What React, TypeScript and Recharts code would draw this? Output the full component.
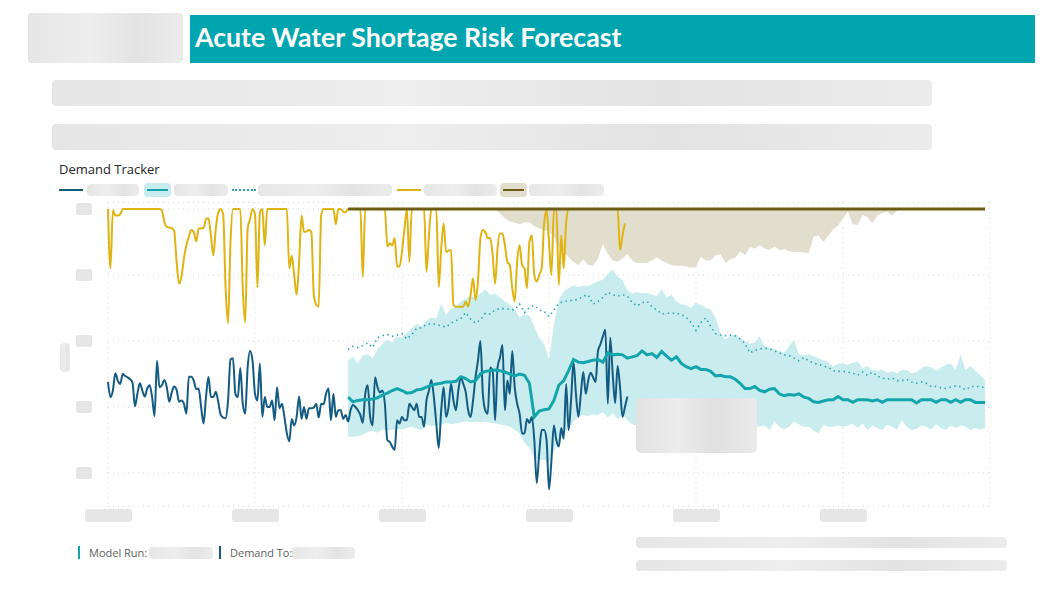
import React from "react";
import { ComposedChart, Line, Area, XAxis, YAxis, CartesianGrid } from "recharts";

// observed series, two readings a day from day 0
const demandActual = [
  1.38, 1.15, 1.25, 1.51, 1.4, 1.35, 1.5, 1.47, 1.45, 1.42,
  1.37, 1.01, 1.2, 1.36, 1.25, 1.16, 1.28, 1.33, 1.15, 0.86,
  1.7, 1.3, 1.33, 1.41, 1.3, 1.08, 1.22, 1.31, 1.26, 1.08,
  1.1, 1.05, 0.9, 1.46, 1.46, 1.4, 1.27, 1.28, 1.0, 0.75,
  1.15, 1.46, 1.15, 1.15, 1.23, 1.08, 0.88, 0.84, 0.83, 1.1,
  1.72, 1.74, 1.2, 1.15, 1.59, 1.05, 0.9, 1.6, 1.85, 1.7,
  1.2, 1.1, 1.66, 0.85, 1.15, 1.0, 1.0, 1.1, 0.8, 1.3,
  0.98, 1.05, 0.85, 0.6, 0.48, 0.82, 0.72, 0.85, 1.16, 0.82,
  1.0, 0.82, 0.98, 0.98, 0.99, 1.05, 0.84, 1.05, 1.04, 1.2,
  1.28, 0.8, 1.2, 0.85, 0.95, 0.95, 0.82, 0.88, 0.78, 0.95,
  1.03, 1.0, 0.95, 0.88, 0.76, 1.2, 1.33, 0.85, 0.72, 1.45,
  1.3, 1.22, 1.25, 1.05, 0.5, 0.47, 0.4, 0.35, 0.8, 0.75,
  0.85, 0.8, 0.8, 1.05, 1.0, 0.95, 1.05, 0.85, 0.85, 0.7,
  1.1, 1.25, 1.41, 1.15, 0.75, 0.38, 0.95, 1.3, 0.85, 1.0,
  1.35, 1.1, 0.95, 1.25, 1.45, 1.35, 1.23, 0.95, 0.85, 1.1,
  1.45, 1.7, 2.0, 1.2, 0.95, 0.9, 1.6, 1.55, 0.8, 1.6,
  1.75, 1.94, 0.95, 1.4, 1.2, 1.85, 1.3, 1.05, 0.9, 0.6,
  0.6, 0.82, 0.76, 0.85, 0.5, -0.15, 0.3, 0.65, 0.65, 0.5,
  -0.25, 0.2, 0.72, 0.5, 0.4, 0.68, 0.52, 1.35, 0.65, 1.1,
  1.68, 1.2, 0.85, 1.2, 1.53, 1.2, 1.4, 1.52, 1.45, 1.38,
  1.85, 1.95, 2.07, 2.17, 1.05, 2.05, 1.5, 1.06, 1.62, 1.3,
  0.85, 1.0, 1.16,
];

const shortageRisk = [
  4, 3.1, 3.98, 3.9, 3.9, 3.92, 4, 4, 4, 4,
  4, 4, 4, 4, 4, 4, 4, 4, 4, 4,
  4, 4, 3.98, 3.8, 3.73, 3.72, 3.71, 3.67, 3.2, 2.87,
  2.98, 3.25, 3.45, 3.58, 3.68, 3.65, 3.51, 3.7, 3.71, 3.71,
  3.85, 3.86, 3.6, 3.3, 3.7, 3.95, 4, 3.92, 2.8, 2.27,
  3.5, 4, 4, 4, 4, 2.8, 2.28, 3.7, 3.85, 4,
  3.92, 2.81, 3.95, 4, 3.45, 4, 4, 4, 4, 4,
  4, 4, 4, 4, 3.1, 3.29, 3.0, 2.7, 3.2, 3.9,
  3.65, 3.66, 3.68, 3.65, 2.7, 2.55, 2.52, 3.9, 4, 4,
  4, 4, 4, 3.77, 4, 4, 3.96, 3.95, 4, 4,
  4, 4, 4, 4, 2.97, 4, 4, 4, 4, 4,
  4, 4, 4, 4, 3.43, 3.48, 3.45, 3.56, 3.13, 3.13,
  3.35, 3.7, 4, 3.2, 4, 4, 4, 4, 4, 4,
  3.05, 3.6, 4, 4, 4, 2.82, 3.4, 3.78, 3.35, 3.37,
  3.38, 2.55, 2.52, 2.52, 2.52, 2.52, 2.6, 2.52, 2.7, 2.95,
  2.62, 2.9, 3.55, 3.68, 3.65, 3.56, 3.56, 3.3, 2.87, 3.4,
  3.63, 3.63, 3.45, 3.2, 3.15, 2.8, 2.6, 3.2, 3.45, 3.15,
  3.1, 2.8, 3.5, 3.6, 3.0, 2.9, 3.0, 3.1, 3.78, 3.98,
  3.5, 3.0, 4, 4, 2.85, 3.6, 3.1, 3.8, 4, 4,
  4, 4, 4, 4, 4, 4, 4, 4, 4, 4,
  4, 4, 4, 4, 4, 4, 4, 4, 4, 3.38,
  3.6, 3.78,
];

// forecast series, daily from day 49
const forecastStartDay = 49;

const demandForecast = [
  1.15, 1.08, 1.1, 1.11, 1.11, 1.12, 1.14, 1.18, 1.21, 1.25,
  1.28, 1.25, 1.21, 1.22, 1.26, 1.27, 1.3, 1.33, 1.35, 1.36,
  1.38, 1.38, 1.39, 1.46, 1.43, 1.38, 1.4, 1.5, 1.54, 1.55,
  1.56, 1.55, 1.53, 1.5, 1.47, 1.5, 1.48, 1.36, 0.85, 0.94,
  0.96, 0.97, 1.1, 1.33, 1.4, 1.55, 1.72, 1.68, 1.67, 1.69,
  1.71, 1.72, 1.68, 1.82, 1.79, 1.8, 1.79, 1.74, 1.76, 1.78,
  1.85, 1.79, 1.81, 1.75, 1.84, 1.77, 1.71, 1.76, 1.66, 1.61,
  1.58, 1.61, 1.57, 1.57, 1.54, 1.47, 1.48, 1.46, 1.46, 1.42,
  1.36, 1.28, 1.28, 1.31, 1.25, 1.23, 1.27, 1.28, 1.2, 1.17,
  1.19, 1.18, 1.2, 1.15, 1.13, 1.08, 1.07, 1.09, 1.11, 1.11,
  1.16, 1.11, 1.11, 1.07, 1.11, 1.11, 1.11, 1.09, 1.11, 1.07,
  1.11, 1.11, 1.11, 1.11, 1.11, 1.11, 1.06, 1.11, 1.11, 1.11,
  1.07, 1.11, 1.11, 1.07, 1.11, 1.07, 1.11, 1.11, 1.07, 1.07,
  1.07,
];

const demandForecastHigh = [
  1.87, 1.92, 1.9, 1.93, 1.97, 1.9, 2.05, 2.08, 2.1, 2.07,
  2.09, 2.11, 2.03, 2.1, 2.19, 2.2, 2.25, 2.26, 2.25, 2.23,
  2.21, 2.27, 2.31, 2.34, 2.43, 2.33, 2.27, 2.32, 2.42, 2.41,
  2.47, 2.49, 2.49, 2.48, 2.47, 2.56, 2.43, 2.51, 2.54, 2.47,
  2.45, 2.37, 2.47, 2.57, 2.6, 2.61, 2.62, 2.63, 2.68, 2.7,
  2.56, 2.6, 2.66, 2.74, 2.7, 2.68, 2.7, 2.68, 2.58, 2.53,
  2.58, 2.6, 2.52, 2.47, 2.41, 2.42, 2.42, 2.42, 2.4, 2.36,
  2.28, 2.16, 2.28, 2.35, 2.22, 2.11, 2.09, 2.08, 2.09, 2.08,
  2.03, 1.96, 1.82, 1.86, 1.88, 1.89, 1.88, 1.85, 1.82, 1.79,
  1.78, 1.74, 1.7, 1.75, 1.7, 1.66, 1.65, 1.62, 1.6, 1.55,
  1.54, 1.54, 1.53, 1.51, 1.48, 1.53, 1.48, 1.53, 1.47, 1.44,
  1.42, 1.44, 1.4, 1.4, 1.42, 1.38, 1.36, 1.38, 1.36, 1.31,
  1.31, 1.29, 1.28, 1.3, 1.32, 1.31, 1.26, 1.31, 1.31, 1.31,
  1.29,
];

const bandHigh = [
  1.71, 1.76, 1.66, 1.78, 1.8, 1.74, 1.88, 1.96, 2.02, 1.98,
  2.07, 2.05, 2.12, 2.19, 2.26, 2.22, 2.31, 2.36, 2.34, 2.57,
  2.4, 2.49, 2.52, 2.6, 2.64, 2.68, 2.66, 2.72, 2.78, 2.7,
  2.72, 2.66, 2.6, 2.55, 2.47, 2.36, 2.4, 2.38, 2.22, 2.05,
  1.95, 1.72, 2.25, 2.62, 2.75, 2.8, 2.84, 2.82, 2.84, 2.83,
  2.87, 2.9, 2.93, 3.02, 3.08, 2.98, 2.92, 2.77, 2.72, 2.74,
  2.72, 2.73, 2.7, 2.68, 2.78, 2.66, 2.7, 2.6, 2.56, 2.54,
  2.5, 2.58, 2.55, 2.5, 2.48, 2.35, 2.12, 2.02, 2.08, 2.1,
  2.05, 2.0, 1.96, 1.98, 2.07, 1.92, 1.9, 1.88, 1.85, 1.82,
  1.92, 2.02, 1.8, 1.78, 1.8, 1.77, 1.74, 1.71, 1.68, 1.61,
  1.66, 1.66, 1.64, 1.67, 1.69, 1.59, 1.62, 1.56, 1.55, 1.57,
  1.52, 1.54, 1.51, 1.56, 1.56, 1.51, 1.53, 1.59, 1.62, 1.6,
  1.55, 1.6, 1.64, 1.66, 1.56, 1.8, 1.56, 1.62, 1.55, 1.48,
  1.41,
];

const bandLow = [
  0.55, 0.55, 0.56, 0.58, 0.62, 0.64, 0.61, 0.66, 0.64, 0.66,
  0.67, 0.66, 0.68, 0.7, 0.67, 0.65, 0.74, 0.71, 0.72, 0.73,
  0.76, 0.74, 0.75, 0.77, 0.78, 0.77, 0.78, 0.77, 0.78, 0.76,
  0.75, 0.74, 0.72, 0.7, 0.66, 0.6, 0.46, 0.38, 0.24, 0.2,
  0.2, 0.16, 0.33, 0.47, 0.58, 0.68, 0.78, 0.86, 0.88, 0.86,
  0.89, 0.88, 0.92, 0.84, 0.91, 0.82, 0.88, 0.8, 0.74, 0.72,
  0.75, 0.7, 0.74, 0.71, 0.76, 0.72, 0.7, 0.74, 0.73, 0.71,
  0.75, 0.7, 0.73, 0.74, 0.71, 0.72, 0.76, 0.7, 0.73, 0.72,
  0.75, 0.71, 0.73, 0.72, 0.7, 0.72, 0.65, 0.78, 0.7, 0.66,
  0.7, 0.78, 0.74, 0.7, 0.7, 0.64, 0.6, 0.73, 0.7, 0.7,
  0.72, 0.7, 0.72, 0.75, 0.68, 0.75, 0.65, 0.72, 0.68, 0.65,
  0.73, 0.7, 0.66, 0.8, 0.7, 0.65, 0.67, 0.72, 0.7, 0.66,
  0.74, 0.68, 0.65, 0.72, 0.68, 0.72, 0.7, 0.65, 0.68, 0.66,
  0.68,
];

// risk range, daily from day 79 up to the ceiling
const riskBandStartDay = 79;
const riskCeiling = 4;
const riskBandLow = [
  4.0, 3.93, 3.86, 3.81, 3.79, 3.77, 3.8, 3.8, 3.74, 3.71,
  3.68, 3.66, 3.58, 3.42, 3.35, 3.27, 3.2, 3.15, 3.24, 3.15,
  3.14, 3.25, 3.47, 3.32, 3.22, 3.2, 3.25, 3.32, 3.22, 3.18,
  3.18, 3.18, 3.22, 3.27, 3.22, 3.18, 3.15, 3.14, 3.14, 3.13,
  3.11, 3.12, 3.28, 3.22, 3.22, 3.3, 3.32, 3.18, 3.24, 3.26,
  3.36, 3.3, 3.42, 3.4, 3.45, 3.4, 3.38, 3.43, 3.38, 3.39,
  3.36, 3.35, 3.35, 3.34, 3.33, 3.58, 3.6, 3.5, 3.6, 3.69,
  3.75, 3.86, 3.96, 3.77, 3.76, 3.91, 3.88, 3.78, 3.9, 3.94,
  3.96, 3.9, 3.97, 4.0,
];

const xTicks = [0, 30, 60, 90, 120, 150];
const yTicks = [0, 1, 2, 3, 4];

const observed = demandActual.map((v, i) => ({
  day: i / 2,
  demand: v,
  risk: i < shortageRisk.length ? shortageRisk[i] : null,
}));

const forecast = demandForecast.map((v, i) => ({
  day: forecastStartDay + i,
  forecast: v,
  high: demandForecastHigh[i],
  band: [bandLow[i], bandHigh[i]],
  ceiling: riskCeiling,
}));

const riskBand = riskBandLow.map((v, i) => ({
  day: riskBandStartDay + i,
  band: [v, riskCeiling],
}));

const blur: React.CSSProperties = {
  position: "absolute",
  background: "linear-gradient(90deg,#e6e6e6,#eeeeee 40%,#e3e3e3 70%,#ececec)",
  borderRadius: 4,
  filter: "blur(0.6px)",
};

const Redact = ({ x, y, w, h }: { x: number; y: number; w: number; h: number }) => (
  <div style={{ ...blur, left: x, top: y, width: w, height: h }} />
);

const XTick = ({ x, y }: any) => (
  <rect x={x - 23} y={y - 5} width={47} height={13} rx={3} fill="#e6e6e6" />
);

const YTick = ({ x, y }: any) => (
  <rect x={x - 24} y={y - 6} width={16} height={12} rx={2} fill="#e6e6e6" />
);

const Swatch = ({ x, color, dash, bg }: { x: number; color: string; dash?: boolean; bg?: string }) => (
  <div
    style={{
      position: "absolute",
      left: x,
      top: 183,
      width: bg ? 27 : 24,
      height: 14,
      background: bg || "transparent",
      borderRadius: 4,
    }}
  >
    <div
      style={{
        position: "absolute",
        left: bg ? 3 : 0,
        right: bg ? 3 : 0,
        top: 6,
        borderTop: dash ? `2px dotted ${color}` : `2px solid ${color}`,
      }}
    />
  </div>
);

export default function App() {
  return (
    <div
      style={{
        position: "absolute",
        left: 0,
        top: 0,
        width: 1055,
        height: 601,
        background: "#fff",
        fontFamily: "'Open Sans', sans-serif",
        overflow: "hidden",
      }}
    >
      <Redact x={28} y={13} w={155} h={50} />
      <div
        style={{
          position: "absolute",
          left: 190,
          top: 15,
          width: 845,
          height: 48,
          background: "#00a5b0",
        }}
      >
        <div
          style={{
            position: "absolute",
            left: 5,
            top: 6,
            color: "#fff",
            fontFamily: "Lato, sans-serif",
            fontWeight: 700,
            fontSize: 26.7,
            whiteSpace: "nowrap",
          }}
        >
          Acute Water Shortage Risk Forecast
        </div>
      </div>
      <Redact x={52} y={80} w={880} h={26} />
      <Redact x={52} y={124} w={880} h={26} />

      <div style={{ position: "absolute", left: 59, top: 160, fontSize: 13, color: "#252423" }}>
        Demand Tracker
      </div>

      <Swatch x={59} color="#135b82" />
      <Redact x={87} y={184} w={52} h={12} />
      <Swatch x={144} color="#12a5ab" bg="#c9ecef" />
      <Redact x={174} y={184} w={54} h={12} />
      <Swatch x={232} color="#2aa8ae" dash />
      <Redact x={258} y={184} w={134} h={12} />
      <Swatch x={397} color="#dfb312" />
      <Redact x={424} y={184} w={73} h={12} />
      <Swatch x={500} color="#6e5c14" bg="#e2decd" />
      <Redact x={529} y={184} w={75} h={12} />

      <Redact x={60} y={343} w={10} h={29} />

      <div style={{ position: "absolute", left: 0, top: 180 }}>
        <ComposedChart
          width={1000}
          height={360}
          margin={{ top: 22.4, right: 10, bottom: 4, left: 68 }}
        >
          <CartesianGrid stroke="#d4d4d4" strokeDasharray="1 4" />
          <XAxis
            type="number"
            dataKey="day"
            domain={[0, 180]}
            ticks={xTicks}
            axisLine={false}
            tickLine={false}
            height={30}
            tick={<XTick />}
            allowDuplicatedCategory={false}
          />
          <YAxis
            type="number"
            domain={[-0.5, 4.1]}
            ticks={yTicks}
            axisLine={false}
            tickLine={false}
            width={40}
            tick={<YTick />}
          />
          <Area
            data={forecast}
            dataKey="band"
            type="linear"
            stroke="none"
            fill="#c9ecef"
            fillOpacity={1}
            isAnimationActive={false}
          />
          <Area
            data={riskBand}
            dataKey="band"
            type="linear"
            stroke="none"
            fill="#e2decd"
            fillOpacity={1}
            isAnimationActive={false}
          />
          <Line
            data={observed}
            dataKey="demand"
            type="monotone"
            stroke="#135b82"
            strokeWidth={2}
            dot={false}
            isAnimationActive={false}
          />
          <Line
            data={forecast}
            dataKey="forecast"
            type="linear"
            stroke="#12a5ab"
            strokeWidth={3}
            dot={false}
            isAnimationActive={false}
          />
          <Line
            data={forecast}
            dataKey="high"
            type="linear"
            stroke="#2aa8ae"
            strokeWidth={1.6}
            strokeDasharray="1.5 3.5"
            dot={false}
            isAnimationActive={false}
          />
          <Line
            data={observed}
            dataKey="risk"
            type="monotone"
            stroke="#dfb312"
            strokeWidth={2}
            dot={false}
            connectNulls={false}
            isAnimationActive={false}
          />
          <Line
            data={forecast}
            dataKey="ceiling"
            type="linear"
            stroke="#6e5c14"
            strokeWidth={3}
            dot={false}
            isAnimationActive={false}
          />
        </ComposedChart>
      </div>

      <div
        style={{
          position: "absolute",
          left: 636,
          top: 398,
          width: 121,
          height: 55,
          borderRadius: 5,
          background: "linear-gradient(90deg,#e2e2e2,#ececec 35%,#e0e0e0 65%,#eaeaea)",
        }}
      />

      <div style={{ position: "absolute", left: 78, top: 546, width: 2, height: 13, background: "#12a5ab" }} />
      <div style={{ position: "absolute", left: 89, top: 545, fontSize: 11, color: "#605e5c" }}>Model Run:</div>
      <Redact x={149} y={547} w={64} h={12} />
      <div style={{ position: "absolute", left: 219, top: 546, width: 2, height: 13, background: "#135b82" }} />
      <div style={{ position: "absolute", left: 230, top: 545, fontSize: 11, color: "#605e5c" }}>Demand To:</div>
      <Redact x={292} y={547} w={63} h={12} />

      <Redact x={636} y={537} w={371} h={11} />
      <Redact x={636} y={560} w={371} h={11} />
    </div>
  );
}
